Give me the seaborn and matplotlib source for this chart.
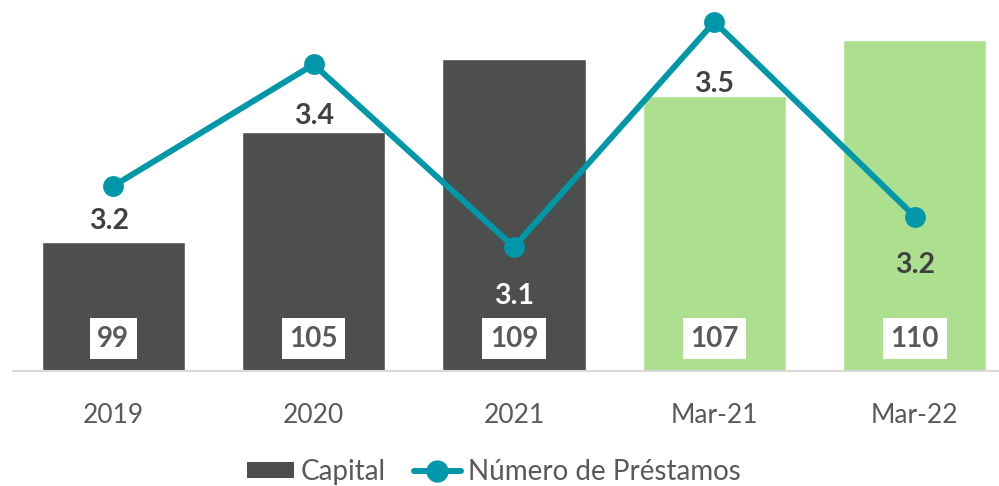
import matplotlib.pyplot as plt
import seaborn as sns
import numpy as np
from matplotlib.patches import Patch
from matplotlib.lines import Line2D

sns.set_style("white")
plt.rcParams['font.family'] = ['Lato', 'DejaVu Sans']

# data
periods = ["2019", "2020", "2021", "Mar-21", "Mar-22"]
capital = [99, 105, 109, 107, 110]
prestamos = [3.24, 3.44, 3.14, 3.51, 3.19]

dark = "#4D4F4E"
green = "#ADE08E"
teal = "#0097A9"
bar_colors = [dark, dark, dark, green, green]
# where each line label sits below its point (points) and its colour
lab_offsets = [-25, -37, -35, -45, -35]
lab_colors = ["#404040", "#404040", "white", "#404040", "#404040"]

fig = plt.figure(figsize=(9.99, 4.86), dpi=100)
ax = fig.add_axes([13 / 999, 115 / 486, 1002 / 999, 371 / 486])

sns.barplot(x=periods, y=capital, hue=periods, palette=bar_colors,
            legend=False, width=0.715, saturation=1, ax=ax)
ax.set_ylim(92, 112.2)
ax.set_xlim(-0.5, 4.5)
ax.set_yticks([])
ax.set_xlabel("")
ax.set_ylabel("")
for s in ["top", "right", "left"]:
    ax.spines[s].set_visible(False)
ax.spines["bottom"].set_color("#D9D9D9")
ax.spines["bottom"].set_linewidth(1.5)
ax.tick_params(axis="x", length=0, labelsize=19, labelcolor="#595959", pad=23)

# white value boxes at the foot of each bar
for i, v in enumerate(capital):
    ax.text(i, 93.75, f"{v}", ha="center", va="center",
            fontsize=20, fontweight="bold", color="#595959",
            bbox=dict(boxstyle="square,pad=0.27", fc="white", ec="none"))

ax2 = ax.twinx()
sns.lineplot(x=np.arange(len(periods)), y=prestamos, color=teal, linewidth=4.3,
             marker="o", markersize=15, markeredgewidth=0, ax=ax2)
ax2.set_ylim(2.936, 3.546)
ax2.set_yticks([])
ax2.set_ylabel("")
for s in ax2.spines.values():
    s.set_visible(False)

for i, v in enumerate(prestamos):
    ax2.annotate(f"{v:.1f}", (i, v), xytext=(-3 if i == 0 else 0, lab_offsets[i]),
                 textcoords="offset points", ha="center", va="center",
                 fontsize=20.5, fontweight="bold", color=lab_colors[i])

handles = [Patch(facecolor=dark, edgecolor="none", label="Capital"),
           Line2D([0], [0], color=teal, linewidth=4.3, marker="o",
                  markersize=15, label="Número de Préstamos")]
fig.legend(handles=handles, loc="center", bbox_to_anchor=(0.494, 0.029),
           ncol=2, frameon=False, fontsize=20, labelcolor="#595959",
           handlelength=1.7, handleheight=0.55, handletextpad=0.25,
           columnspacing=1.0)

plt.savefig("out.png", dpi=100)
